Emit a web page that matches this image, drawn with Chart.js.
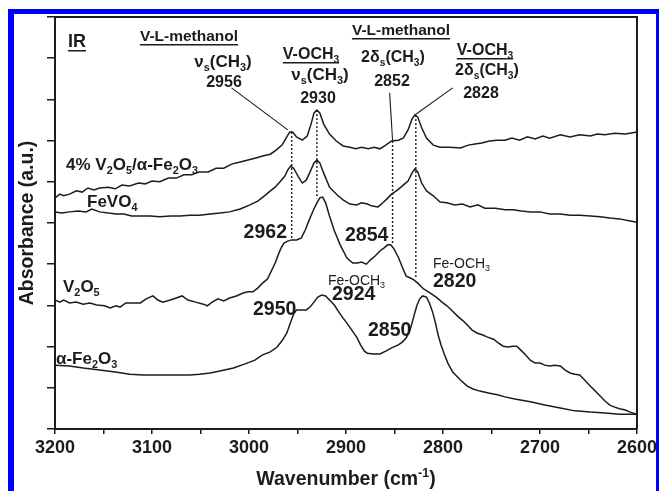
<!DOCTYPE html>
<html>
<head>
<meta charset="utf-8">
<script src="https://cdn.jsdelivr.net/npm/chart.js@4.4.1/dist/chart.umd.min.js"></script>
<style>
  html, body { margin: 0; padding: 0; background: #fff; overflow: hidden; }
  #wrap { position: relative; width: 660px; height: 491px; }
  #frame { position: absolute; left: 8px; top: 9px; width: 642px; height: 600px;
           border-left: 6px solid #0000fe; border-top: 5px solid #0000fe; border-right: 3px solid #0000fe;
           pointer-events: none; }
</style>
</head>
<body>
<div id="wrap"><canvas id="ir" width="660" height="491"></canvas><div id="frame"></div></div>
<script>
// values: [wavenumber (cm-1), absorbance (a.u., offset)]
const v2o5OnFe2o3 = [[3200,5.61],[3195,5.70],[3191,5.66],[3185,5.70],[3178,5.78],[3172,5.75],[3166,5.85],[3160,5.80],[3154,5.85],[3145,5.87],[3138,5.83],[3131,5.92],[3123,5.90],[3114,5.97],[3107,5.95],[3100,6.02],[3092,6.00],[3083,6.09],[3075,6.09],[3067,6.17],[3059,6.17],[3051,6.24],[3042,6.24],[3034,6.33],[3026,6.33],[3018,6.43],[3009,6.48],[3001,6.53],[2993,6.58],[2985,6.63],[2978,6.67],[2972,6.77],[2966,6.89],[2961,7.09],[2958,7.21],[2955,7.21],[2951,7.09],[2945,7.01],[2940,7.11],[2936,7.40],[2933,7.67],[2930,7.74],[2927,7.67],[2923,7.40],[2917,7.16],[2910,6.99],[2903,6.87],[2896,6.84],[2890,6.80],[2884,6.84],[2877,6.80],[2871,6.84],[2865,6.80],[2859,6.89],[2853,6.99],[2846,7.01],[2841,7.06],[2836,7.26],[2832,7.52],[2829,7.62],[2826,7.57],[2822,7.31],[2817,7.06],[2810,6.89],[2803,6.84],[2793,6.84],[2782,6.82],[2774,6.89],[2767,6.92],[2760,6.94],[2752,6.99],[2744,7.01],[2736,7.01],[2729,7.06],[2721,7.01],[2713,7.09],[2705,7.04],[2697,7.11],[2690,7.06],[2679,7.14],[2669,7.09],[2659,7.14],[2648,7.11],[2641,7.16],[2633,7.14],[2623,7.18],[2612,7.16],[2600,7.21]]

const feVO4 = [[3200,5.27],[3193,5.24],[3185,5.27],[3176,5.29],[3168,5.27],[3162,5.34],[3154,5.27],[3145,5.24],[3137,5.22],[3129,5.22],[3121,5.17],[3112,5.17],[3102,5.17],[3092,5.15],[3081,5.17],[3071,5.17],[3061,5.19],[3051,5.19],[3040,5.22],[3030,5.24],[3020,5.27],[3009,5.34],[2999,5.44],[2991,5.53],[2984,5.66],[2978,5.78],[2973,5.87],[2968,6.00],[2963,6.14],[2960,6.29],[2957,6.38],[2954,6.33],[2949,6.12],[2945,5.97],[2941,6.04],[2937,6.24],[2933,6.46],[2930,6.53],[2927,6.46],[2923,6.21],[2917,5.87],[2909,5.68],[2903,5.56],[2896,5.46],[2889,5.44],[2884,5.49],[2878,5.46],[2873,5.41],[2867,5.39],[2862,5.49],[2858,5.58],[2853,5.70],[2847,5.80],[2841,5.92],[2836,6.02],[2832,6.21],[2829,6.31],[2826,6.24],[2822,5.97],[2817,5.78],[2810,5.66],[2803,5.51],[2796,5.49],[2788,5.44],[2780,5.46],[2772,5.39],[2764,5.44],[2757,5.36],[2746,5.36],[2736,5.32],[2728,5.32],[2719,5.29],[2710,5.27],[2700,5.27],[2690,5.22],[2679,5.22],[2669,5.19],[2659,5.19],[2648,5.17],[2638,5.15],[2628,5.12],[2618,5.10],[2607,5.05],[2600,5.02]]

const v2o5 = [[3200,3.13],[3195,3.08],[3191,3.13],[3185,3.06],[3178,3.08],[3171,3.03],[3164,3.06],[3157,3.01],[3149,2.99],[3143,2.94],[3137,2.99],[3133,2.96],[3127,3.06],[3120,3.06],[3112,3.06],[3106,3.16],[3099,3.23],[3094,3.13],[3089,3.08],[3081,3.13],[3075,3.18],[3069,3.23],[3063,3.13],[3055,3.08],[3047,3.03],[3043,2.99],[3038,3.08],[3032,3.16],[3026,3.11],[3020,3.18],[3013,3.23],[3006,3.30],[3001,3.33],[2996,3.33],[2991,3.42],[2986,3.54],[2981,3.64],[2977,3.83],[2973,4.03],[2970,4.22],[2967,4.39],[2964,4.51],[2960,4.56],[2956,4.59],[2951,4.59],[2946,4.64],[2942,4.83],[2938,5.07],[2934,5.29],[2930,5.49],[2927,5.61],[2924,5.63],[2921,5.49],[2917,5.17],[2912,4.81],[2906,4.47],[2899,4.15],[2893,4.03],[2888,4.03],[2884,4.05],[2879,4.00],[2875,4.10],[2870,4.20],[2865,4.32],[2861,4.39],[2857,4.47],[2854,4.47],[2851,4.39],[2846,4.17],[2842,3.93],[2838,3.71],[2834,3.67],[2830,3.62],[2826,3.54],[2820,3.40],[2813,3.30],[2807,3.20],[2801,3.08],[2796,2.99],[2790,2.86],[2785,2.74],[2779,2.62],[2774,2.50],[2770,2.40],[2765,2.33],[2759,2.28],[2754,2.23],[2748,2.18],[2743,2.09],[2738,2.01],[2733,1.99],[2728,2.01],[2724,2.01],[2720,1.92],[2715,1.80],[2710,1.67],[2705,1.60],[2700,1.60],[2695,1.55],[2690,1.53],[2685,1.55],[2679,1.53],[2674,1.43],[2669,1.36],[2664,1.33],[2659,1.31],[2654,1.19],[2648,1.04],[2643,0.92],[2638,0.80],[2633,0.68],[2628,0.58],[2623,0.53],[2618,0.49],[2612,0.46],[2607,0.41],[2600,0.36]]

const fe2o3 = [[3200,1.55],[3185,1.53],[3171,1.48],[3154,1.43],[3136,1.38],[3123,1.33],[3109,1.31],[3097,1.31],[3085,1.31],[3071,1.31],[3061,1.31],[3051,1.33],[3040,1.36],[3030,1.41],[3016,1.48],[3004,1.58],[2994,1.67],[2986,1.80],[2978,1.87],[2971,1.99],[2966,2.14],[2961,2.33],[2957,2.60],[2954,2.79],[2951,2.89],[2946,2.89],[2941,2.89],[2937,2.96],[2933,3.08],[2929,3.20],[2925,3.25],[2921,3.23],[2917,3.13],[2912,3.01],[2908,2.86],[2903,2.69],[2899,2.57],[2894,2.40],[2889,2.23],[2885,2.04],[2881,1.89],[2878,1.84],[2872,1.82],[2865,1.82],[2859,1.89],[2853,1.97],[2846,2.04],[2842,2.11],[2838,2.21],[2834,2.40],[2830,2.74],[2827,2.99],[2824,3.16],[2821,3.23],[2817,3.20],[2814,3.06],[2811,2.86],[2808,2.60],[2805,2.28],[2802,2.04],[2799,1.84],[2795,1.60],[2790,1.38],[2782,1.19],[2775,1.04],[2769,0.97],[2762,0.92],[2752,0.87],[2744,0.83],[2736,0.78],[2726,0.73],[2710,0.66],[2695,0.58],[2679,0.51],[2664,0.44],[2648,0.41],[2633,0.39],[2618,0.36],[2600,0.36]]

// dotted guides: [wavenumber, top absorbance, bottom absorbance]
const dropLines = [[2956, 7.21, 4.59], [2930, 7.74, 5.60], [2852, 6.99, 4.47], [2828, 7.62, 3.67]]
// leader lines from peak labels: [wn1, abs1, wn2, abs2]
const leaderLines = [[3018, 8.28, 2960, 7.26], [2855, 8.16, 2852, 7.01], [2790, 8.28, 2829, 7.62]]

const xTickLabels = [3200, 3100, 3000, 2900, 2800, 2700, 2600]

const ink = '#1e1b1c'
const family = '"Liberation Sans", Arial, sans-serif'

const toXY = arr => arr.map(p => ({ x: p[0], y: p[1] }))

let datasets = [v2o5OnFe2o3, feVO4, v2o5, fe2o3].map(s => ({
    data: toXY(s), borderColor: ink, borderWidth: 1.5, pointRadius: 0, fill: false
}))
dropLines.forEach(d => datasets.push({
    data: [{ x: d[0], y: d[1] }, { x: d[0], y: d[2] }],
    borderColor: ink, borderWidth: 1.4, borderDash: [2, 2], pointRadius: 0
}))
leaderLines.forEach(d => datasets.push({
    data: [{ x: d[0], y: d[1] }, { x: d[2], y: d[3] }],
    borderColor: ink, borderWidth: 1.1, pointRadius: 0
}))

// text with sub/superscripts: parts = [[text, 0 normal | 1 sub | 2 sup], ...]
function rich(ctx, parts, x, y, size, o = {}) {
    const weight = o.weight || 'bold'
    const small = size * 0.64
    const f = s => `${weight} ${s}px ${family}`
    let w = 0
    parts.forEach(([t, m]) => { ctx.font = f(m ? small : size); w += ctx.measureText(t).width })
    let cx = o.align === 'center' ? x - w / 2 : o.align === 'right' ? x - w : x
    const x0 = cx
    ctx.textBaseline = 'alphabetic'
    ctx.textAlign = 'left'
    ctx.fillStyle = ink
    parts.forEach(([t, m]) => {
        ctx.font = f(m ? small : size)
        const dy = m === 1 ? size * 0.24 : m === 2 ? -size * 0.42 : 0
        ctx.fillText(t, cx, y + dy)
        cx += ctx.measureText(t).width
    })
    if (o.underline) ctx.fillRect(x0, y + o.underline, w, 1.5)
}

const nuS = [['\u03bd', 0], ['s', 1], ['(CH', 0], ['3', 1], [')', 0]]
const twoDeltaS = [['2\u03b4', 0], ['s', 1], ['(CH', 0], ['3', 1], [')', 0]]
const vOCH3 = [['V-OCH', 0], ['3', 1]]
const feOCH3 = [['Fe-OCH', 0], ['3', 1]]

const labels = [
    { p: [['IR', 0]], x: 68, y: 47, s: 18, u: 3 },
    { p: [['V-L-methanol', 0]], x: 189, y: 41, s: 15.5, a: 'center', u: 3 },
    { p: nuS, x: 223, y: 67, s: 17, a: 'center' },
    { p: [['2956', 0]], x: 224, y: 87, s: 16, a: 'center' },
    { p: vOCH3, x: 311, y: 59, s: 16, a: 'center', u: 3 },
    { p: nuS, x: 320, y: 80, s: 17, a: 'center' },
    { p: [['2930', 0]], x: 318, y: 103, s: 16, a: 'center' },
    { p: [['V-L-methanol', 0]], x: 401, y: 35, s: 15.5, a: 'center', u: 3 },
    { p: twoDeltaS, x: 393, y: 62, s: 16, a: 'center' },
    { p: [['2852', 0]], x: 392, y: 86, s: 16, a: 'center' },
    { p: vOCH3, x: 485, y: 55, s: 16, a: 'center', u: 3 },
    { p: twoDeltaS, x: 487, y: 75, s: 16, a: 'center' },
    { p: [['2828', 0]], x: 481, y: 98, s: 16, a: 'center' },
    { p: [['4% V', 0], ['2', 1], ['O', 0], ['5', 1], ['/\u03b1-Fe', 0], ['2', 1], ['O', 0], ['3', 1]], x: 66, y: 170, s: 17 },
    { p: [['FeVO', 0], ['4', 1]], x: 87, y: 207, s: 17 },
    { p: [['2962', 0]], x: 287, y: 238, s: 19.5, a: 'right' },
    { p: [['2854', 0]], x: 345, y: 241, s: 19.5 },
    { p: [['V', 0], ['2', 1], ['O', 0], ['5', 1]], x: 63, y: 292, s: 17 },
    { p: feOCH3, x: 328, y: 285, s: 14, w: 'normal' },
    { p: [['2924', 0]], x: 332, y: 300, s: 19.5 },
    { p: [['2950', 0]], x: 253, y: 315, s: 19.5 },
    { p: [['2850', 0]], x: 368, y: 336, s: 19.5 },
    { p: feOCH3, x: 433, y: 268, s: 14, w: 'normal' },
    { p: [['2820', 0]], x: 433, y: 287, s: 19.5 },
    { p: [['\u03b1-Fe', 0], ['2', 1], ['O', 0], ['3', 1]], x: 56, y: 364, s: 17 }
]

const annotate = {
    id: 'annotate',
    afterDraw(chart) {
        const ctx = chart.ctx
        const a = chart.chartArea
        ctx.save()
        // top and right frame
        ctx.strokeStyle = ink
        ctx.lineWidth = 2
        ctx.beginPath()
        ctx.moveTo(a.left, a.top)
        ctx.lineTo(a.right, a.top)
        ctx.lineTo(a.right, a.bottom)
        ctx.stroke()

        labels.forEach(l => rich(ctx, l.p, l.x, l.y, l.s, { align: l.a, underline: l.u, weight: l.w }))

        // axis titles
        rich(ctx, [['Wavenumber (cm', 0], ['-1', 2], [')', 0]], (a.left + a.right) / 2, 485, 19.5, { align: 'center' })
        ctx.translate(26, (a.top + a.bottom) / 2)
        ctx.rotate(-Math.PI / 2)
        rich(ctx, [['Absorbance (a.u.)', 0]], 0, 7, 19.5, { align: 'center' })
        ctx.restore()
    }
}

new Chart(document.getElementById('ir'), {
    type: 'line',
    data: { datasets },
    options: {
        responsive: false,
        animation: false,
        devicePixelRatio: 1,
        layout: { padding: { top: 17, right: 23, left: 0, bottom: 0 } },
        plugins: { legend: { display: false }, tooltip: { enabled: false } },
        elements: { line: { tension: 0 } },
        scales: {
            x: {
                type: 'linear', reverse: true, min: 2600, max: 3200,
                afterFit: s => { s.height = 62 },
                ticks: {
                    stepSize: 50, autoSkip: false, maxRotation: 0, padding: 3, color: ink,
                    font: { family, size: 18, weight: 'bold' },
                    callback: v => xTickLabels.includes(v) ? String(v) : ''
                },
                grid: { drawOnChartArea: false, tickLength: 5, color: ink, lineWidth: 1.5 },
                border: { color: ink, width: 2 }
            },
            y: {
                type: 'linear', min: 0, max: 10,
                afterFit: s => { s.width = 55 },
                ticks: { stepSize: 1, callback: () => '' },
                grid: { drawOnChartArea: false, tickLength: 8, color: ink, lineWidth: 1.5 },
                border: { color: ink, width: 2 }
            }
        }
    },
    plugins: [annotate]
})
</script>
</body>
</html>
